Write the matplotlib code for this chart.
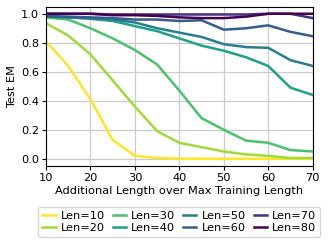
import numpy as np
import matplotlib
matplotlib.use("Agg")
import matplotlib.pyplot as plt

x_vals = [10, 15, 20, 25, 30, 35, 40, 45, 50, 55, 60, 65, 70]
labels = ["Len=10", "Len=20", "Len=30", "Len=40", "Len=50", "Len=60", "Len=70", "Len=80"]
len10 = [0.81, 0.64, 0.41, 0.13, 0.02, 0.005, 0.0, 0.0, 0.0, 0.0, 0.0, 0.0, 0.0]
len20 = [0.935, 0.85, 0.72, 0.54, 0.36, 0.19, 0.11, 0.08, 0.05, 0.03, 0.02, 0.005, 0.005]
len30 = [0.975, 0.96, 0.90, 0.83, 0.75, 0.65, 0.47, 0.28, 0.20, 0.125, 0.11, 0.06, 0.05]
len40 = [0.98, 0.975, 0.965, 0.95, 0.915, 0.88, 0.83, 0.78, 0.745, 0.70, 0.64, 0.49, 0.44]
len50 = [0.98, 0.975, 0.97, 0.96, 0.94, 0.90, 0.87, 0.84, 0.79, 0.77, 0.765, 0.68, 0.64]
len60 = [0.985, 0.98, 0.975, 0.97, 0.96, 0.96, 0.95, 0.955, 0.89, 0.90, 0.92, 0.875, 0.845]
len70 = [1.0, 1.0, 1.0, 0.995, 0.995, 0.995, 0.995, 0.995, 0.995, 0.995, 1.0, 1.0, 0.97]
len80 = [1.0, 1.0, 1.0, 0.99, 0.99, 0.985, 0.975, 0.97, 0.97, 0.98, 1.0, 1.0, 1.0]
series = [len10, len20, len30, len40, len50, len60, len70, len80]

fs = 8.2
plt.rcParams['font.size'] = fs
fig = plt.figure(figsize=(3.32, 2.44), dpi=100)
ax = fig.add_axes([46/332, 1-166/244, (312.7-46)/332, (166-6.5)/244])
colors = plt.cm.viridis(np.linspace(1, 0, len(series)))
for vals, lab, c in zip(series, labels, colors):
    ax.plot(x_vals, vals, color=c, lw=1.8, label=lab)
ax.set_xlim(10, 70)
ax.set_ylim(-0.05, 1.05)
ax.set_yticks([0.0, 0.2, 0.4, 0.6, 0.8, 1.0])
ax.set_xticks([10, 20, 30, 40, 50, 60, 70])
ax.grid(True, color='#cccccc', lw=0.9)
ax.set_axisbelow(True)
ax.set_xlabel("Additional Length over Max Training Length", labelpad=2)
ax.set_ylabel("Test EM", labelpad=3)
ax.tick_params(length=3, pad=2)
ax.legend(ncol=4, loc='upper center', bbox_to_anchor=(0.5, -0.22), handlelength=1.15,
          handletextpad=0.45, columnspacing=0.7, labelspacing=0.17, borderpad=0.35,
          fontsize=fs)
fig.savefig("out.png", dpi=100)
